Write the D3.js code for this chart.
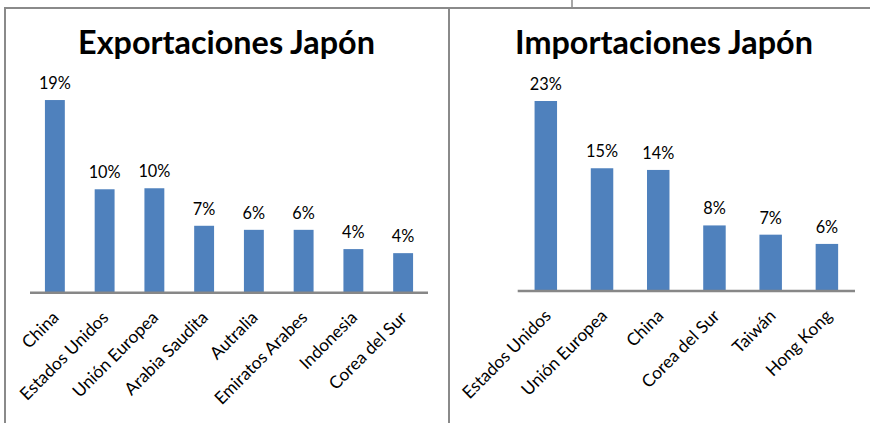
<!DOCTYPE html>
<html>
<head>
<meta charset="utf-8">
<script src="https://cdn.jsdelivr.net/npm/d3@7"></script>
<style>
  html, body { margin: 0; padding: 0; background: #fff; }
  svg { display: block; }
  text { font-family: Lato, "Noto Sans", sans-serif; fill: #000; }
</style>
</head>
<body>
<svg id="chart" width="870" height="423"></svg>
<script>
// ---- Data ----
const expTitle = "Exportaciones Japón";
const expCategories = ["China", "Estados Unidos", "Unión Europea", "Arabia Saudita", "Autralia", "Emiratos Arabes", "Indonesia", "Corea del Sur"];
const expValues = [0.19, 0.102, 0.103, 0.066, 0.062, 0.062, 0.043, 0.039];

const impTitle = "Importaciones Japón";
const impCategories = ["Estados Unidos", "Unión Europea", "China", "Corea del Sur", "Taiwán", "Hong Kong"];
const impValues = [0.226, 0.146, 0.144, 0.078, 0.067, 0.056];

const expAxisMax = 0.20;
const impAxisMax = 0.25;

// ---- Drawing ----
const svg = d3.select("#chart");
const frameColor = "#8a8a8a";
const barColor = "#4F81BD";
const axisColor = "#878787";
const fmt = d3.format(".0%");

// helper: font size that makes a string a given width
function fitSize(str, weight, target) {
  const t = svg.append("text").attr("font-size", 100).attr("font-weight", weight).text(str);
  const w = t.node().getComputedTextLength();
  t.remove();
  return 100 * target / w;
}
const titleSize = fitSize(expTitle, "bold", 297);
const valueSize = fitSize("19%", "normal", 32);
const catSize = fitSize("Estados Unidos", "normal", 117);

// frames
svg.append("line").attr("x1", 5).attr("x2", 5).attr("y1", 8).attr("y2", 423)
  .attr("stroke", frameColor).attr("stroke-width", 2);
svg.append("line").attr("x1", 4).attr("x2", 449).attr("y1", 8).attr("y2", 8)
  .attr("stroke", frameColor).attr("stroke-width", 2);
svg.append("line").attr("x1", 449).attr("x2", 449).attr("y1", 7).attr("y2", 423)
  .attr("stroke", frameColor).attr("stroke-width", 2);
svg.append("line").attr("x1", 449).attr("x2", 870).attr("y1", 8).attr("y2", 8)
  .attr("stroke", frameColor).attr("stroke-width", 2);
svg.append("line").attr("x1", 572).attr("x2", 572).attr("y1", 0).attr("y2", 8)
  .attr("stroke", frameColor).attr("stroke-width", 1.5);

function drawChart(opts) {
  const { title, cats, vals, axisMax, x0, x1, base, yTop, titleX } = opts;
  const g = svg.append("g");
  const x = d3.scaleBand().domain(cats).range([x0, x1]).paddingInner(0.6).paddingOuter(0.3);
  const y = d3.scaleLinear().domain([0, axisMax]).range([base, yTop]);

  g.append("text").attr("x", titleX).attr("y", 54).attr("text-anchor", "middle")
    .attr("font-weight", "bold").attr("font-size", titleSize).text(title);

  g.selectAll("rect.bar").data(vals).join("rect").attr("class", "bar")
    .attr("x", (d, i) => x(cats[i]))
    .attr("y", d => y(d))
    .attr("width", x.bandwidth())
    .attr("height", d => y(0) - y(d))
    .attr("fill", barColor);

  g.selectAll("text.val").data(vals).join("text").attr("class", "val")
    .attr("x", (d, i) => x(cats[i]) + x.bandwidth() / 2)
    .attr("y", d => y(d) - 11)
    .attr("text-anchor", "middle")
    .attr("font-size", valueSize)
    .text(d => fmt(d));

  const axis = d3.axisBottom(x).tickSize(0).tickPadding(0);
  const ag = g.append("g").attr("transform", `translate(0,${base})`).call(axis);
  ag.select(".domain").attr("stroke", axisColor).attr("stroke-width", 2.5)
    .attr("d", `M${x0},0H${x1}`);
  ag.selectAll(".tick text")
    .attr("font-family", "Lato, 'Noto Sans', sans-serif")
    .attr("font-size", catSize)
    .attr("fill", "#000")
    .attr("text-anchor", "end")
    .attr("dy", null)
    .attr("y", null)
    .attr("transform", d => `translate(${x.bandwidth() / 2 - 5},26) rotate(-45)`);
  ag.selectAll(".tick text").attr("x", 0).attr("y", 0);
  ag.selectAll(".tick").each(function() {
    const tr = d3.select(this).attr("transform");
  });
}

drawChart({ title: expTitle, cats: expCategories, vals: expValues, axisMax: expAxisMax,
  x0: 30, x1: 428, base: 292.7, yTop: 292.7 - 0.2 * 1014, titleX: 226.5 });
drawChart({ title: impTitle, cats: impCategories, vals: impValues, axisMax: impAxisMax,
  x0: 517.7, x1: 855, base: 291, yTop: 291 - 0.25 * 840.7, titleX: 664 });
</script>
</body>
</html>
